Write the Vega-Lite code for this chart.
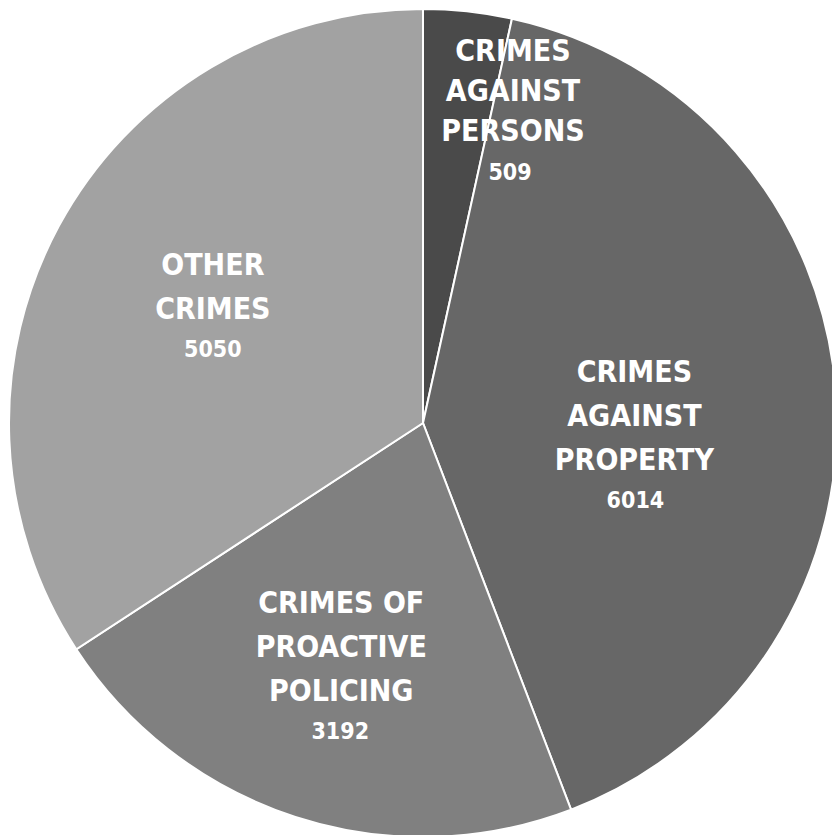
{
  "$schema": "https://vega.github.io/schema/vega-lite/v6.json",
  "width": 818,
  "height": 824,
  "autosize": {"type": "none"},
  "padding": {"left": 14, "top": 11, "right": 0, "bottom": 0},
  "background": "white",
  "config": {"view": {"stroke": null}},
  "data": {"values": [
    {"cat": "Crimes against persons", "title": "CRIMES\nAGAINST\nPERSONS", "value": 509},
    {"cat": "Crimes against property", "title": "CRIMES\nAGAINST\nPROPERTY", "value": 6014},
    {"cat": "Crimes of proactive policing", "title": "CRIMES OF\nPROACTIVE\nPOLICING", "value": 3192},
    {"cat": "Other crimes", "title": "OTHER\nCRIMES", "value": 5050}
  ]},
  "encoding": {
    "theta": {"field": "value", "type": "quantitative", "stack": true},
    "order": {"field": "cat", "type": "ordinal", "sort": "ascending"}
  },
  "layer": [
    {
      "mark": {"type": "arc", "radius": 414, "stroke": "white", "strokeWidth": 2},
      "encoding": {
        "color": {"field": "cat", "type": "nominal", "legend": null,
          "scale": {"domain": ["Crimes against persons", "Crimes against property", "Crimes of proactive policing", "Other crimes"],
                    "range": ["#4a4a4a", "#676767", "#808080", "#a2a2a2"]}}
      }
    },
    {
      "mark": {"type": "text", "radius": 333, "dx": 54, "dy": -40, "lineBreak": "\n", "lineHeight": 40, "font": "DejaVu Sans Condensed", "fontWeight": "bold", "fontSize": 30, "color": "white", "align": "center", "baseline": "middle"},
      "encoding": {"detail": {"field": "cat"}, "text": {"condition": {"test": "datum.cat === 'Crimes against persons'", "field": "title"}, "value": ""}}
    },
    {
      "mark": {"type": "text", "radius": 333, "dx": 51, "dy": 81, "font": "DejaVu Sans Condensed", "fontWeight": "bold", "fontSize": 23, "color": "white", "align": "center", "baseline": "middle"},
      "encoding": {"detail": {"field": "cat"}, "text": {"condition": {"test": "datum.cat === 'Crimes against persons'", "field": "value"}, "value": ""}}
    },
    {
      "mark": {"type": "text", "radius": 212, "dx": 0, "dy": -34, "lineBreak": "\n", "lineHeight": 44, "font": "DejaVu Sans Condensed", "fontWeight": "bold", "fontSize": 30, "color": "white", "align": "center", "baseline": "middle"},
      "encoding": {"detail": {"field": "cat"}, "text": {"condition": {"test": "datum.cat === 'Crimes against property'", "field": "title"}, "value": ""}}
    },
    {
      "mark": {"type": "text", "radius": 212, "dx": 1, "dy": 94, "font": "DejaVu Sans Condensed", "fontWeight": "bold", "fontSize": 23, "color": "white", "align": "center", "baseline": "middle"},
      "encoding": {"detail": {"field": "cat"}, "text": {"condition": {"test": "datum.cat === 'Crimes against property'", "field": "value"}, "value": ""}}
    },
    {
      "mark": {"type": "text", "radius": 236, "dx": -9, "dy": -44, "lineBreak": "\n", "lineHeight": 44, "font": "DejaVu Sans Condensed", "fontWeight": "bold", "fontSize": 30, "color": "white", "align": "center", "baseline": "middle"},
      "encoding": {"detail": {"field": "cat"}, "text": {"condition": {"test": "datum.cat === 'Crimes of proactive policing'", "field": "title"}, "value": ""}}
    },
    {
      "mark": {"type": "text", "radius": 236, "dx": -10, "dy": 84, "font": "DejaVu Sans Condensed", "fontWeight": "bold", "fontSize": 23, "color": "white", "align": "center", "baseline": "middle"},
      "encoding": {"detail": {"field": "cat"}, "text": {"condition": {"test": "datum.cat === 'Crimes of proactive policing'", "field": "value"}, "value": ""}}
    },
    {
      "mark": {"type": "text", "radius": 239, "dx": 0, "dy": -43, "lineBreak": "\n", "lineHeight": 44, "font": "DejaVu Sans Condensed", "fontWeight": "bold", "fontSize": 30, "color": "white", "align": "center", "baseline": "middle"},
      "encoding": {"detail": {"field": "cat"}, "text": {"condition": {"test": "datum.cat === 'Other crimes'", "field": "title"}, "value": ""}}
    },
    {
      "mark": {"type": "text", "radius": 239, "dx": 0, "dy": 41, "font": "DejaVu Sans Condensed", "fontWeight": "bold", "fontSize": 23, "color": "white", "align": "center", "baseline": "middle"},
      "encoding": {"detail": {"field": "cat"}, "text": {"condition": {"test": "datum.cat === 'Other crimes'", "field": "value"}, "value": ""}}
    }
  ]
}
